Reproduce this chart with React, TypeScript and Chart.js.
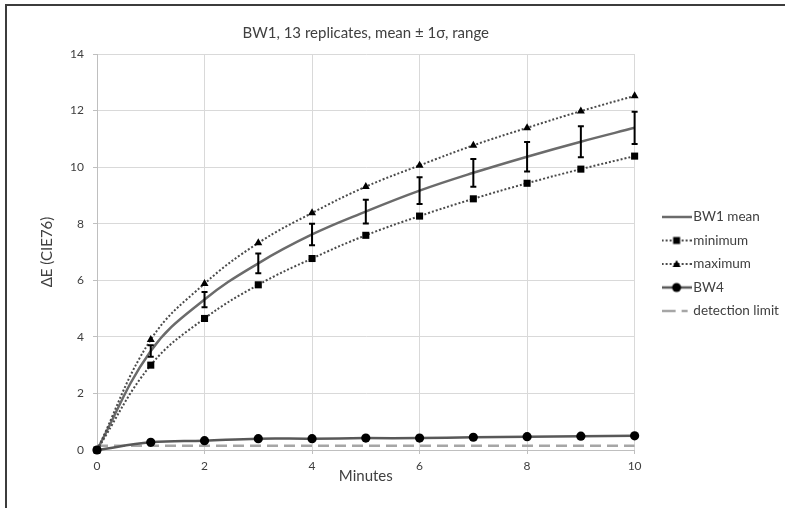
import React, { useEffect, useRef } from 'react';
import { Chart, registerables } from 'chart.js';

Chart.register(...registerables);

// ---------- data ----------
const TITLE = 'BW1, 13 replicates, mean ± 1σ, range';
const X_TITLE = 'Minutes';
const Y_TITLE = 'ΔE (CIE76)';
const SERIES_NAMES = ['BW1 mean', 'minimum', 'maximum', 'BW4', 'detection limit'];

const MINUTES = [0, 1, 2, 3, 4, 5, 6, 7, 8, 9, 10];
const BW1_MEAN = [0, 3.5, 5.32, 6.6, 7.62, 8.43, 9.17, 9.8, 10.37, 10.9, 11.39];
const BW1_SD = [0, 0.2, 0.27, 0.35, 0.38, 0.42, 0.47, 0.49, 0.52, 0.55, 0.57];
const BW1_MIN = [0, 3.0, 4.65, 5.84, 6.77, 7.59, 8.27, 8.88, 9.43, 9.93, 10.39];
const BW1_MAX = [0, 3.9, 5.88, 7.32, 8.38, 9.31, 10.06, 10.77, 11.39, 11.98, 12.52];
const BW4 = [0, 0.27, 0.33, 0.4, 0.4, 0.42, 0.42, 0.45, 0.47, 0.49, 0.5];
const DETECTION_LIMIT = [0.15, 0.15, 0.15, 0.15, 0.15, 0.15, 0.15, 0.15, 0.15, 0.15, 0.15];

const X_RANGE = [0, 10];
const Y_RANGE = [0, 14];
const TICK_STEP = 2;

// ---------- styling ----------
const FONT = "Lato, 'DejaVu Sans', sans-serif";
const TEXT = '#404040';
const GRID = '#d9d9d9';
const AXIS = '#bfbfbf';
const MEAN_COLOR = '#6b6b6b';
const RANGE_COLOR = '#4a4a4a';
const BW4_COLOR = '#585858';
const DET_COLOR = '#a6a6a6';

function pts(values: number[]) {
  return MINUTES.map((x, i) => ({ x, y: values[i] }));
}

function makeSymbol(kind: string): HTMLCanvasElement {
  const c = document.createElement('canvas');
  c.width = 30;
  c.height = 14;
  const g = c.getContext('2d')!;
  const cy = 7;
  const line = (color: string, w: number, dash: number[]) => {
    g.save();
    g.strokeStyle = color;
    g.lineWidth = w;
    g.setLineDash(dash);
    g.beginPath();
    g.moveTo(0, cy);
    g.lineTo(30, cy);
    g.stroke();
    g.restore();
  };
  g.fillStyle = '#000';
  if (kind === 'mean') {
    line(MEAN_COLOR, 2.5, []);
  } else if (kind === 'min') {
    line(RANGE_COLOR, 2, [2, 2]);
    g.fillRect(11.5, cy - 3.5, 7, 7);
  } else if (kind === 'max') {
    line(RANGE_COLOR, 2, [2, 2]);
    g.beginPath();
    g.moveTo(15, cy - 4);
    g.lineTo(19, cy + 3);
    g.lineTo(11, cy + 3);
    g.closePath();
    g.fill();
  } else if (kind === 'bw4') {
    line(BW4_COLOR, 2.5, []);
    g.beginPath();
    g.arc(15, cy, 4.5, 0, Math.PI * 2);
    g.fill();
  } else {
    g.strokeStyle = DET_COLOR;
    g.lineWidth = 2.5;
    g.beginPath();
    g.moveTo(0, cy);
    g.lineTo(14, cy);
    g.moveTo(20, cy);
    g.lineTo(26, cy);
    g.stroke();
  }
  return c;
}

const errorBars = {
  id: 'errorBars',
  afterDatasetsDraw(chart: any) {
    const { ctx, scales } = chart;
    const xs = scales.x;
    const ys = scales.y;
    ctx.save();
    ctx.strokeStyle = '#000';
    ctx.lineWidth = 2;
    MINUTES.forEach((m, i) => {
      if (!BW1_SD[i]) return;
      const px = xs.getPixelForValue(m);
      const top = ys.getPixelForValue(BW1_MEAN[i] + BW1_SD[i]);
      const bot = ys.getPixelForValue(BW1_MEAN[i] - BW1_SD[i]);
      ctx.beginPath();
      ctx.moveTo(px, top);
      ctx.lineTo(px, bot);
      ctx.moveTo(px - 3, top);
      ctx.lineTo(px + 3, top);
      ctx.moveTo(px - 3, bot);
      ctx.lineTo(px + 3, bot);
      ctx.stroke();
    });
    ctx.restore();
  },
};

export default function App() {
  const ref = useRef<HTMLCanvasElement>(null);

  useEffect(() => {
    const canvas = ref.current;
    if (!canvas) return;

    const legendSize = 13.5;
    const symbolW = 20;
    const legendPad = 10;
    const meas = document.createElement('canvas').getContext('2d')!;
    meas.font = `${legendSize}px ${FONT}`;
    const maxText = Math.max(...SERIES_NAMES.map((t) => meas.measureText(t).width));
    const legendW = legendPad + symbolW + legendSize / 2 + maxText + 10;
    const plotRight = 626;
    const gutter = 22;
    const padRight = Math.max(0, 785 - plotRight - gutter - legendW);

    const symbols = ['mean', 'min', 'max', 'bw4', 'det'].map(makeSymbol);

    const chart = new Chart(canvas, {
      type: 'line',
      data: {
        datasets: [
          {
            label: SERIES_NAMES[0],
            data: pts(BW1_MEAN),
            borderColor: MEAN_COLOR,
            borderWidth: 2.5,
            pointRadius: 0,
            tension: 0.4,
            clip: false,
            order: 2,
          },
          {
            label: SERIES_NAMES[1],
            data: pts(BW1_MIN),
            borderColor: RANGE_COLOR,
            borderWidth: 2,
            borderDash: [2, 2],
            pointStyle: 'rect',
            pointRadius: 5,
            pointBackgroundColor: '#000',
            pointBorderColor: '#000',
            pointBorderWidth: 0,
            tension: 0.4,
            clip: false,
            order: 1,
          },
          {
            label: SERIES_NAMES[2],
            data: pts(BW1_MAX),
            borderColor: RANGE_COLOR,
            borderWidth: 2,
            borderDash: [2, 2],
            pointStyle: 'triangle',
            pointRadius: 4.6,
            pointBackgroundColor: '#000',
            pointBorderColor: '#000',
            pointBorderWidth: 0,
            tension: 0.4,
            clip: false,
            order: 1,
          },
          {
            label: SERIES_NAMES[3],
            data: pts(BW4),
            borderColor: BW4_COLOR,
            borderWidth: 2.5,
            pointStyle: 'circle',
            pointRadius: 4.6,
            pointBackgroundColor: '#000',
            pointBorderColor: '#000',
            pointBorderWidth: 0,
            tension: 0.4,
            clip: false,
            order: -1,
          },
          {
            label: SERIES_NAMES[4],
            data: pts(DETECTION_LIMIT),
            borderColor: DET_COLOR,
            borderWidth: 2.5,
            borderDash: [11, 6],
            pointRadius: 0,
            tension: 0,
            clip: false,
            order: 3,
          },
        ],
      },
      options: {
        responsive: false,
        animation: false,
        events: [],
        layout: { padding: { top: 24, bottom: 23, left: 38, right: padRight } },
        plugins: {
          tooltip: { enabled: false },
          title: {
            display: true,
            text: TITLE,
            fullSize: false,
            color: TEXT,
            font: { family: FONT, size: 15, weight: 'normal' },
            padding: { top: 0, bottom: 12 },
          },
          legend: {
            position: 'right',
            title: { display: true, text: '', padding: { top: 9, bottom: 0 }, font: { size: 10, lineHeight: 1 } },
            labels: {
              usePointStyle: true,
              pointStyleWidth: symbolW,
              padding: legendPad,
              color: TEXT,
              font: { family: FONT, size: legendSize },
              generateLabels: () =>
                SERIES_NAMES.map((name, i) => ({
                  text: name,
                  datasetIndex: i,
                  pointStyle: symbols[i],
                  fillStyle: 'transparent',
                  strokeStyle: 'transparent',
                  lineWidth: 0,
                  hidden: false,
                  fontColor: TEXT,
                })),
            },
          },
        },
        scales: {
          x: {
            type: 'linear',
            min: X_RANGE[0],
            max: X_RANGE[1],
            ticks: { stepSize: TICK_STEP, padding: 5, color: TEXT, font: { family: FONT, size: 12 } },
            grid: { color: GRID, tickLength: 4, tickColor: AXIS },
            border: { color: AXIS },
            title: {
              display: true,
              text: X_TITLE,
              color: TEXT,
              font: { family: FONT, size: 15 },
              padding: { top: 0, bottom: 0 },
            },
            afterFit: (s: any) => {
              s.height = 35;
            },
          },
          y: {
            type: 'linear',
            min: Y_RANGE[0],
            max: Y_RANGE[1],
            ticks: { stepSize: TICK_STEP, padding: 9, color: TEXT, font: { family: FONT, size: 12 } },
            grid: { color: GRID, tickLength: 4, tickColor: AXIS },
            border: { color: AXIS },
            title: {
              display: true,
              text: Y_TITLE,
              color: TEXT,
              font: { family: FONT, size: 15 },
              padding: { top: 0, bottom: 0 },
            },
            afterFit: (s: any) => {
              s.width = 59;
            },
          },
          yR: {
            type: 'linear',
            position: 'right',
            display: true,
            grid: { display: false, drawTicks: false },
            border: { display: false },
            ticks: { display: false },
            afterFit: (s: any) => {
              s.width = gutter;
            },
          },
        },
      },
      plugins: [errorBars],
    } as any);

    return () => chart.destroy();
  }, []);

  return (
    <div
      style={{
        position: 'fixed',
        left: 0,
        top: 0,
        width: 785,
        height: 508,
        background: '#fff',
        overflow: 'hidden',
      }}
    >
      <canvas ref={ref} width={785} height={508} style={{ position: 'absolute', left: 0, top: 0, width: 785, height: 508 }} />
      <div
        style={{
          position: 'absolute',
          left: 5,
          top: 4,
          width: 800,
          height: 520,
          borderTop: '2px solid #3c3c3c',
          borderLeft: '2px solid #3c3c3c',
          pointerEvents: 'none',
        }}
      />
    </div>
  );
}
